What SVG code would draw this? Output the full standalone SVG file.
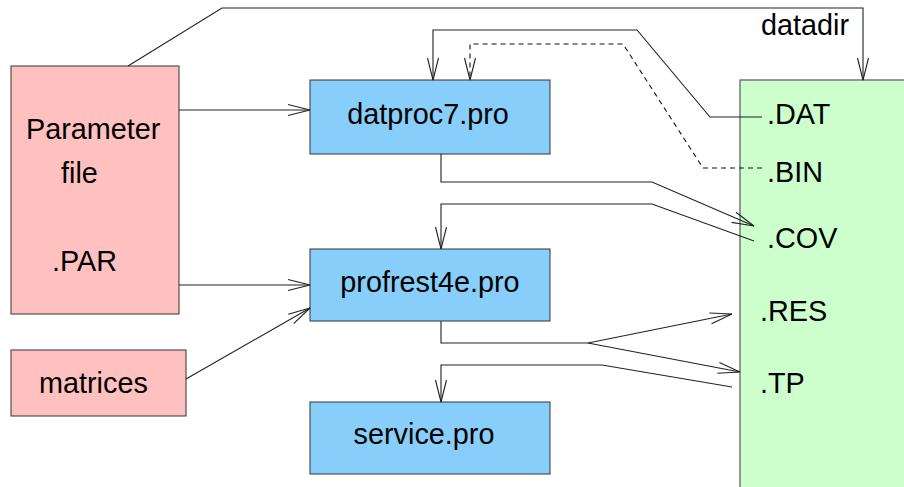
<svg xmlns="http://www.w3.org/2000/svg" width="904" height="487" viewBox="0 0 904 487">
  <style>
    .lbl { font-family: "Liberation Sans", Arial, sans-serif; font-size: 28.8px; fill: #000; }
    .mid { text-anchor: middle; }
    .src rect { fill: #ffc0c0; stroke: #333; stroke-width: 1; }
    .prog rect { fill: #87cefa; stroke: #333; stroke-width: 1; }
    .dir rect { fill: #ccffcc; stroke: #777; stroke-width: 1.5; }
    .conn path { fill: none; stroke: #222; stroke-width: 1.1; marker-end: url(#arrow); }
    .conn path.dash { stroke-dasharray: 5 4; stroke: #111; }
  </style>
  <defs>
    <marker id="arrow" markerUnits="userSpaceOnUse" markerWidth="30" markerHeight="16" viewBox="-24 -8 26 16" refX="0" refY="0" orient="auto">
      <path d="M-22,-5.5 L0,0 L-22,5.5" fill="none" stroke="#222" stroke-width="1.1"/>
    </marker>
  </defs>

  <!-- data directory -->
  <g id="datadir" class="dir">
    <rect x="740" y="80" width="180" height="430"/>
    <text class="lbl" x="767" y="124">.DAT</text>
    <text class="lbl" x="767" y="182">.BIN</text>
    <text class="lbl" x="767" y="248">.COV</text>
    <text class="lbl" x="760" y="321">.RES</text>
    <text class="lbl" x="760" y="393">.TP</text>
  </g>

  <!-- input files -->
  <g id="param" class="src">
    <rect x="11" y="66" width="168" height="248"/>
    <text class="lbl" x="26" y="139">Parameter</text>
    <text class="lbl" x="61" y="183">file</text>
    <text class="lbl" x="52" y="271">.PAR</text>
  </g>
  <g id="matrices" class="src">
    <rect x="11" y="350" width="175" height="66"/>
    <text class="lbl" x="39" y="393">matrices</text>
  </g>

  <!-- programs -->
  <g id="datproc7" class="prog">
    <rect x="310" y="80" width="240" height="74"/>
    <text class="lbl mid" x="428" y="124">datproc7.pro</text>
  </g>
  <g id="profrest4e" class="prog">
    <rect x="310" y="249" width="240" height="72"/>
    <text class="lbl mid" x="430" y="292">profrest4e.pro</text>
  </g>
  <g id="service" class="prog">
    <rect x="310" y="402" width="240" height="72"/>
    <text class="lbl mid" x="424" y="444">service.pro</text>
  </g>

  <text class="lbl" x="761" y="35">datadir</text>

  <!-- connectors -->
  <g id="connectors" class="conn">
    <path d="M128,66 L222,8 L863,8 L863,80"/>
    <path d="M762,117 L710,117 L637,30 L433,30 L433,80"/>
    <path class="dash" d="M762,168 L703,168 L623,44 L470,44 L470,80"/>
    <path d="M441,154 L441,182 L652,182 L754,226"/>
    <path d="M754,241 L652,204 L441,204 L441,249"/>
    <path d="M441,321 L441,343 L588,343 L732,314"/>
    <path d="M588,343 L740,372"/>
    <path d="M732,387 L602,365 L441,365 L441,402"/>
    <path d="M179,110 L310,110"/>
    <path d="M179,285 L310,285"/>
    <path d="M186,379 L310,308"/>
  </g>
</svg>
